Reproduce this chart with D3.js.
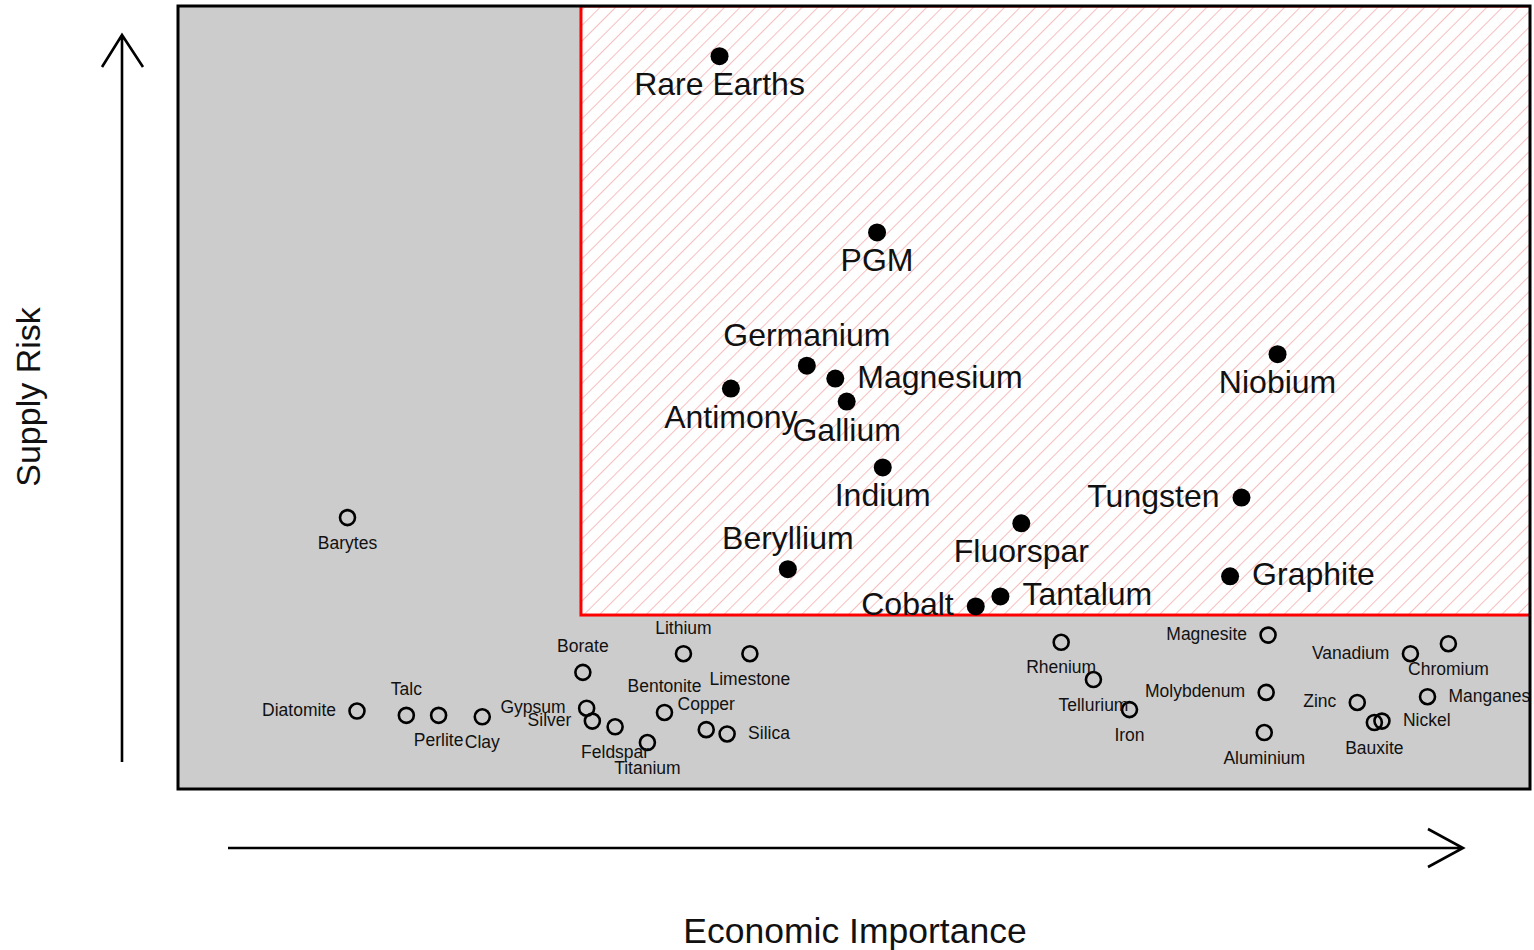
<!DOCTYPE html>
<html>
<head>
<meta charset="utf-8">
<script src="https://cdn.jsdelivr.net/npm/d3@7"></script>
<style>
  body { margin: 0; background: #fff; }
  text { font-family: "Liberation Sans", Arial, Helvetica, sans-serif; fill: #111; }
</style>
</head>
<body>
<svg></svg>
<script>
// Configuration
const width = 1534;
const height = 950;

// Critical raw materials (filled dots)
const critNames = ["Rare Earths", "PGM", "Germanium", "Magnesium", "Antimony", "Gallium", "Niobium",
    "Indium", "Tungsten", "Fluorspar", "Beryllium", "Graphite", "Tantalum", "Cobalt"];
const critEI = [5.73, 6.56, 6.19, 6.34, 5.79, 6.40, 8.67, 6.59, 8.48, 7.32, 6.09, 8.42, 7.21, 7.08];
const critSR = [4.90, 3.67, 2.74, 2.65, 2.58, 2.49, 2.82, 2.03, 1.82, 1.64, 1.32, 1.27, 1.13, 1.06];
const critPos = [1, 1, 3, 4, 1, 1, 1, 1, 2, 1, 3, 4, 4, 2];

// Other raw materials (open circles)
const otherNames = ["Barytes", "Diatomite", "Talc", "Perlite", "Clay", "Gypsum", "Silver", "Borate",
    "Feldspar", "Titanium", "Lithium", "Bentonite", "Copper", "Silica", "Limestone", "Rhenium",
    "Tellurium", "Iron", "Magnesite", "Molybdenum", "Aluminium", "Vanadium", "Chromium",
    "Manganese", "Zinc", "Bauxite", "Nickel"];
const otherEI = [3.77, 3.82, 4.08, 4.25, 4.48, 5.03, 5.06, 5.01, 5.18, 5.35, 5.54, 5.44, 5.66, 5.77,
    5.89, 7.53, 7.70, 7.89, 8.62, 8.61, 8.60, 9.37, 9.57, 9.46, 9.09, 9.18, 9.22];
const otherSR = [1.68, 0.33, 0.30, 0.30, 0.29, 0.35, 0.26, 0.60, 0.22, 0.11, 0.73, 0.32, 0.20, 0.17,
    0.73, 0.81, 0.55, 0.34, 0.86, 0.46, 0.18, 0.73, 0.80, 0.43, 0.39, 0.25, 0.26];
const otherPos = [1, 2, 3, 1, 1, 2, 2, 3, 1, 1, 3, 3, 3, 4, 1, 1, 1, 1, 2, 2, 1, 2, 1, 4, 2, 1, 4];

// Criticality thresholds
const thresholdEI = 5;
const thresholdSR = 1;

const critical = critNames.map((name, i) => ({ name, ei: critEI[i], sr: critSR[i], pos: critPos[i] }));
const others = otherNames.map((name, i) => ({ name, ei: otherEI[i], sr: otherSR[i], pos: otherPos[i] }));

const plot = { left: 178, top: 6, right: 1530, bottom: 789 };

const x = d3.scaleLinear().domain([2.877, 10]).range([plot.left, plot.right]);
const y = d3.scaleLinear().domain([-0.214, 5.25]).range([plot.bottom, plot.top]);

const svg = d3.select("svg")
    .attr("width", width)
    .attr("height", height);

// Hatch pattern for the critical zone
const defs = svg.append("defs");
defs.append("pattern")
    .attr("id", "hatch")
    .attr("patternUnits", "userSpaceOnUse")
    .attr("width", 11)
    .attr("height", 11)
    .attr("patternTransform", "rotate(45)")
    .append("line")
    .attr("x1", 0).attr("y1", 0)
    .attr("x2", 0).attr("y2", 11)
    .attr("stroke", "#f39a9a")
    .attr("stroke-width", 1.3);

defs.append("clipPath")
    .attr("id", "plotclip")
    .append("rect")
    .attr("x", plot.left)
    .attr("y", plot.top)
    .attr("width", plot.right - plot.left)
    .attr("height", plot.bottom - plot.top);

// Plot background
svg.append("rect")
    .attr("x", plot.left)
    .attr("y", plot.top)
    .attr("width", plot.right - plot.left)
    .attr("height", plot.bottom - plot.top)
    .attr("fill", "#cccccc");

const g = svg.append("g").attr("clip-path", "url(#plotclip)");

// Critical zone
const zx = x(thresholdEI), zy = y(thresholdSR);
g.append("rect")
    .attr("x", zx).attr("y", plot.top)
    .attr("width", plot.right - zx + 5)
    .attr("height", zy - plot.top)
    .attr("fill", "#ffffff");
g.append("rect")
    .attr("x", zx).attr("y", plot.top)
    .attr("width", plot.right - zx + 5)
    .attr("height", zy - plot.top)
    .attr("fill", "url(#hatch)")
    .attr("stroke", "#ff0000")
    .attr("stroke-width", 3);

// Label placement: 1 below, 2 left, 3 above, 4 right
function placeLabels(sel, dx, dyBelow, dyAbove, dySide) {
    sel.attr("x", d => x(d.ei) + (d.pos === 2 ? -dx : d.pos === 4 ? dx : 0))
        .attr("y", d => y(d.sr) + (d.pos === 1 ? dyBelow : d.pos === 3 ? -dyAbove : dySide))
        .attr("text-anchor", d => d.pos === 2 ? "end" : d.pos === 4 ? "start" : "middle")
        .attr("dominant-baseline", "central")
        .text(d => d.name);
}

// Other materials
g.selectAll(".other")
    .data(others)
    .join("circle")
    .attr("class", "other")
    .attr("cx", d => x(d.ei))
    .attr("cy", d => y(d.sr))
    .attr("r", 7.5)
    .attr("fill", "none")
    .attr("stroke", "#000")
    .attr("stroke-width", 2.6);

g.selectAll(".other-label")
    .data(others)
    .join("text")
    .attr("class", "other-label")
    .style("font-size", "17.5px")
    .call(placeLabels, 21, 25, 26, -1);

// Critical materials
g.selectAll(".crit")
    .data(critical)
    .join("circle")
    .attr("class", "crit")
    .attr("cx", d => x(d.ei))
    .attr("cy", d => y(d.sr))
    .attr("r", 9)
    .attr("fill", "#000");

g.selectAll(".crit-label")
    .data(critical)
    .join("text")
    .attr("class", "crit-label")
    .style("font-size", "32px")
    .call(placeLabels, 22, 28, 31, -2);

// Plot frame
svg.append("rect")
    .attr("x", plot.left)
    .attr("y", plot.top)
    .attr("width", plot.right - plot.left)
    .attr("height", plot.bottom - plot.top)
    .attr("fill", "none")
    .attr("stroke", "#000")
    .attr("stroke-width", 3);

// Axis arrows
svg.append("path")
    .attr("d", "M122,762V35M102,67L122,35L143,67")
    .attr("fill", "none")
    .attr("stroke", "#000")
    .attr("stroke-width", 2.6);

svg.append("path")
    .attr("d", "M228,848H1463M1428,829L1463,848L1428,867")
    .attr("fill", "none")
    .attr("stroke", "#000")
    .attr("stroke-width", 2.6);

// Axis titles
svg.append("text")
    .attr("transform", "translate(28,397) rotate(-90)")
    .attr("text-anchor", "middle")
    .attr("dominant-baseline", "central")
    .style("font-size", "34px")
    .text("Supply Risk");

svg.append("text")
    .attr("x", 855)
    .attr("y", 931)
    .attr("text-anchor", "middle")
    .attr("dominant-baseline", "central")
    .style("font-size", "35.5px")
    .text("Economic Importance");
</script>
</body>
</html>
